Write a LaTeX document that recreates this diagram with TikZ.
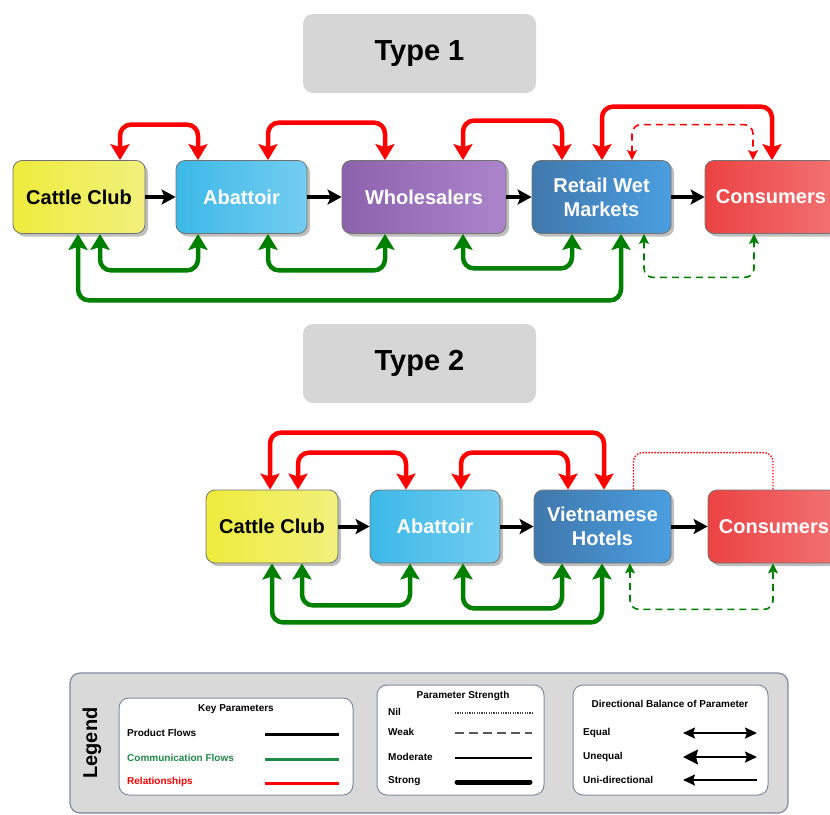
\documentclass[tikz,border=0pt]{standalone}
\usepackage{fontspec}
\setmainfont{Liberation Sans}
\usetikzlibrary{arrows.meta,shadows}
\definecolor{rd}{RGB}{255,0,0}
\definecolor{gn}{RGB}{0,128,0}
\definecolor{lgn}{RGB}{30,140,70}
\definecolor{bordergray}{RGB}{115,115,115}
\definecolor{titlegray}{RGB}{214,214,214}
\definecolor{legbg}{RGB}{217,217,217}
\definecolor{legborder}{RGB}{128,140,160}
\definecolor{yelA}{RGB}{238,236,60}
\definecolor{yelB}{RGB}{242,240,125}
\definecolor{abA}{RGB}{60,185,232}
\definecolor{abB}{RGB}{115,205,240}
\definecolor{whA}{RGB}{140,98,172}
\definecolor{whB}{RGB}{172,132,204}
\definecolor{rtA}{RGB}{64,120,172}
\definecolor{rtB}{RGB}{74,158,224}
\definecolor{coA}{RGB}{236,66,66}
\definecolor{coB}{RGB}{242,115,115}
\begin{document}
\begin{tikzpicture}[x=1pt,y=-1pt,
  box/.style={rounded corners=9pt, draw=bordergray, line width=0.8pt,
    minimum height=73pt, text=white, inner sep=0pt, align=center,
    font=\bfseries\fontsize{20}{24}\selectfont,
    drop shadow={shadow xshift=3pt,shadow yshift=-3pt,fill=black,opacity=0.25}},
  titlebox/.style={rounded corners=10pt, fill=titlegray, minimum width=233pt,
    minimum height=79pt, font=\bfseries\fontsize{29}{32}\selectfont},
  strongline/.style={line width=4.5pt, rounded corners=11pt, line join=round,
    arrows={Stealth[length=16pt,width=19pt,inset=3pt]-Stealth[length=16pt,width=19pt,inset=3pt]}},
  weakline/.style={line width=1.6pt, rounded corners=9pt, dash pattern=on 7pt off 5pt,
    arrows={Stealth[length=10pt,width=10pt,inset=2pt]-Stealth[length=10pt,width=10pt,inset=2pt]}},
  nilline/.style={line width=1.4pt, rounded corners=9pt, dash pattern=on 1.4pt off 1.6pt},
  prod/.style={line width=4pt, arrows={-Stealth[length=14pt,width=15pt,inset=3pt]}},
  legbox/.style={rounded corners=10pt, draw=legborder, line width=1pt, fill=white},
  legtxt/.style={font=\bfseries\fontsize{10}{12}\selectfont, inner sep=0pt},
]
\useasboundingbox (0,0) rectangle (830,814);
\clip (0,0) rectangle (830,814);

% ---------- Type 1 ----------
\node[titlebox] (t1) at (419.5,53.5) {Type 1};

\node[box, minimum width=132pt, left color=yelA, right color=yelB, text=black] (cc1) at (79,197) {Cattle Club};
\node[box, minimum width=131pt, left color=abA, right color=abB] (ab1) at (241.5,197) {Abattoir};
\node[box, minimum width=164pt, left color=whA, right color=whB] (wh1) at (424,197) {Wholesalers};
\node[box, minimum width=139pt, left color=rtA, right color=rtB] (rt1) at (601.5,197) {Retail Wet\\Markets};
\node[box, minimum width=132pt, left color=coA, right color=coB] (co1) at (771,197) {Consumers};

\draw[prod] (cc1) -- (ab1);
\draw[prod] (ab1) -- (wh1);
\draw[prod] (wh1) -- (rt1);
\draw[prod] (rt1) -- (co1);

\draw[rd, strongline] ([xshift=41pt]cc1.north) -- ++(0,-35.5) -| ([xshift=-43.5pt]ab1.north);
\draw[rd, strongline] ([xshift=26.5pt]ab1.north) -- ++(0,-37.5) -| ([xshift=-39pt]wh1.north);
\draw[rd, strongline] ([xshift=39pt]wh1.north) -- ++(0,-39.5) -| ([xshift=-39.5pt]rt1.north);
\draw[rd, strongline] ([xshift=0.5pt]rt1.north) -- ++(0,-53.5) -| ([xshift=1pt]co1.north);
\draw[rd, weakline] ([xshift=30.5pt]rt1.north) -- ++(0,-35.5) -| ([xshift=-18pt]co1.north);

\draw[gn, strongline] ([xshift=21pt]cc1.south) -- ++(0,36.5) -| ([xshift=-43.5pt]ab1.south);
\draw[gn, strongline] ([xshift=26.5pt]ab1.south) -- ++(0,36.5) -| ([xshift=-39pt]wh1.south);
\draw[gn, strongline] ([xshift=39pt]wh1.south) -- ++(0,34.5) -| ([xshift=-29.5pt]rt1.south);
\draw[gn, strongline] ([xshift=-1pt]cc1.south) -- ++(0,66.5) -| ([xshift=19.5pt]rt1.south);
\draw[gn, weakline] ([xshift=42.5pt]rt1.south) -- ++(0,43.5) -| ([xshift=-17pt]co1.south);

% ---------- Type 2 ----------
\node[titlebox] (t2) at (419.5,363.5) {Type 2};

\node[box, minimum width=132pt, left color=yelA, right color=yelB, text=black] (cc2) at (272,526.5) {Cattle Club};
\node[box, minimum width=130pt, left color=abA, right color=abB] (ab2) at (435,526.5) {Abattoir};
\node[box, minimum width=137pt, left color=rtA, right color=rtB] (ho2) at (602.5,526.5) {Vietnamese\\Hotels};
\node[box, minimum width=132pt, left color=coA, right color=coB] (co2) at (774,526.5) {Consumers};

\draw[prod] (cc2) -- (ab2);
\draw[prod] (ab2) -- (ho2);
\draw[prod] (ho2) -- (co2);

\draw[rd, strongline] ([xshift=-2pt]cc2.north) -- ++(0,-57) -| ([xshift=1.5pt]ho2.north);
\draw[rd, strongline] ([xshift=26pt]cc2.north) -- ++(0,-37) -| ([xshift=-29pt]ab2.north);
\draw[rd, strongline] ([xshift=26pt]ab2.north) -- ++(0,-37) -| ([xshift=-34.5pt]ho2.north);
\draw[rd, nilline] ([xshift=31pt]ho2.north) -- ++(0,-37) -| ([xshift=-1pt]co2.north);

\draw[gn, strongline] ([xshift=0pt]cc2.south) -- ++(0,59) -| ([xshift=-0.5pt]ho2.south);
\draw[gn, strongline] ([xshift=30pt]cc2.south) -- ++(0,42) -| ([xshift=-25pt]ab2.south);
\draw[gn, strongline] ([xshift=28pt]ab2.south) -- ++(0,45) -| ([xshift=-40.5pt]ho2.south);
\draw[gn, weakline] ([xshift=27.5pt]ho2.south) -- ++(0,46) -| ([xshift=-1pt]co2.south);

% ---------- Legend ----------
\node[rounded corners=10pt, draw=legborder, line width=1.2pt, fill=legbg,
      minimum width=718pt, minimum height=140pt] (lg) at (429,743) {};
\node[font=\bfseries\fontsize{20}{24}\selectfont, rotate=90] (lgt) at (92,743) {Legend};

\node[legbox, minimum width=234pt, minimum height=97pt] (kp) at (236,746.5) {};
\node[legtxt] (kpt) at (236,709) {Key Parameters};
\node[legtxt, anchor=west] (kp1) at (127,733) {Product Flows};
\node[legtxt, anchor=west, text=lgn] (kp2) at (127,758) {Communication Flows};
\node[legtxt, anchor=west, text=rd] (kp3) at (127,782) {Relationships};
\coordinate (kpa1) at (265,734); \coordinate (kpb1) at (339,734);
\coordinate (kpa2) at (265,759); \coordinate (kpb2) at (339,759);
\coordinate (kpa3) at (265,783); \coordinate (kpb3) at (339,783);
\draw[line width=3pt, black] (kpa1) -- (kpb1);
\draw[line width=3pt, lgn] (kpa2) -- (kpb2);
\draw[line width=3pt, rd] (kpa3) -- (kpb3);

\node[legbox, minimum width=167pt, minimum height=110pt] (ps) at (460.5,740) {};
\node[legtxt] (pst) at (463,696) {Parameter Strength};
\node[legtxt, anchor=west] (ps1) at (388,712) {Nil};
\node[legtxt, anchor=west] (ps2) at (388,732) {Weak};
\node[legtxt, anchor=west] (ps3) at (388,757) {Moderate};
\node[legtxt, anchor=west] (ps4) at (388,781) {Strong};
\coordinate (psa1) at (455,713); \coordinate (psb1) at (532,713);
\coordinate (psa2) at (455,733); \coordinate (psb2) at (532,733);
\coordinate (psa3) at (455,758); \coordinate (psb3) at (532,758);
\coordinate (psa4) at (457,782); \coordinate (psb4) at (530,782);
\draw[line width=1.2pt, black!75, dash pattern=on 1.2pt off 1.2pt] (psa1) -- (psb1);
\draw[line width=1.3pt, black!65, dash pattern=on 9pt off 5pt] (psa2) -- (psb2);
\draw[line width=2.2pt, black] (psa3) -- (psb3);
\draw[line width=5pt, black, line cap=round] (psa4) -- (psb4);

\node[legbox, minimum width=195pt, minimum height=110pt] (db) at (670.5,740) {};
\node[legtxt] (dbt) at (670,704) {Directional Balance of Parameter};
\node[legtxt, anchor=west] (db1) at (583,733) {Equal};
\node[legtxt, anchor=west] (db2) at (583,757) {Unequal};
\node[legtxt, anchor=west] (db3) at (583,780) {Uni-directional};
\coordinate (dba1) at (683,733); \coordinate (dbb1) at (757,733);
\coordinate (dba2) at (683,757); \coordinate (dbb2) at (757,757);
\coordinate (dba3) at (683,780); \coordinate (dbb3) at (757,780);
\draw[line width=2pt, arrows={Stealth[length=12pt,width=11pt,inset=2pt]-Stealth[length=12pt,width=11pt,inset=2pt]}] (dba1) -- (dbb1);
\draw[line width=2pt, arrows={Stealth[length=15pt,width=15pt,inset=2pt]-Stealth[length=12pt,width=11pt,inset=2pt]}] (dba2) -- (dbb2);
\draw[line width=2pt, arrows={Stealth[length=12pt,width=11pt,inset=2pt]-}] (dba3) -- (dbb3);
\end{tikzpicture}
\end{document}
